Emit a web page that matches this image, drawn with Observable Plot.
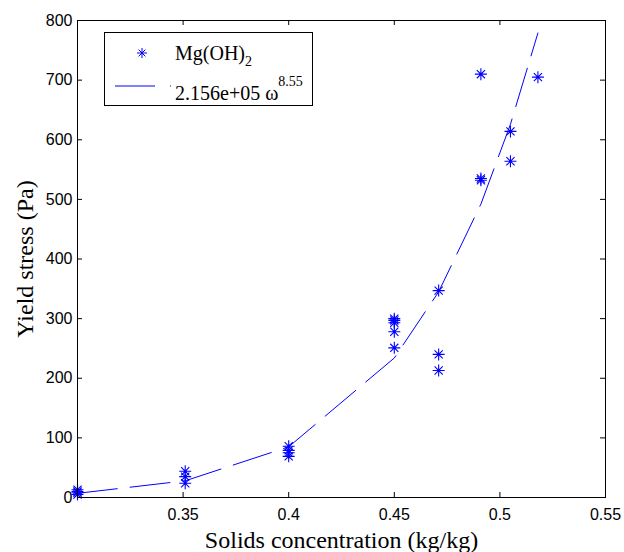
<!DOCTYPE html>
<html>
<head>
<meta charset="utf-8">
<script src="https://cdn.jsdelivr.net/npm/d3@7"></script>
<script src="https://cdn.jsdelivr.net/npm/@observablehq/plot@0.6"></script>
<style>
  html, body { margin: 0; padding: 0; background: #fff; }
  svg { display: block; }
</style>
</head>
<body>
<div id="chart"></div>
<script>
// Measured data (solids concentration kg/kg, yield stress Pa)
const conc = [0.3, 0.3, 0.3, 0.3,
              0.351, 0.351, 0.351,
              0.4, 0.4, 0.4, 0.4,
              0.45, 0.45, 0.45, 0.45, 0.45,
              0.471, 0.471, 0.471,
              0.491, 0.491, 0.491,
              0.505, 0.505,
              0.518];
const stress = [5, 8, 10, 13,
                24, 35, 44,
                69, 75, 79, 86,
                251, 278, 293, 297, 300,
                213, 240, 347,
                532, 535, 710,
                564, 614,
                705];

// Fitted curve values
const fitConc = [0.3, 0.351, 0.4, 0.45, 0.471, 0.491, 0.505, 0.518];
const fitStress = [7, 28, 85, 234, 345, 492, 626, 779];

// Tick values
const xTicks = [0.3, 0.35, 0.4, 0.45, 0.5, 0.55];
const xTickLabels = [0.35, 0.4, 0.45, 0.5, 0.55];
const yTicks = [0, 100, 200, 300, 400, 500, 600, 700, 800];

const legendLabels = ["Mg(OH)", "2", "2.156e+05 ω", "8.55"];
const xLabel = "Solids concentration (kg/kg)";
const yLabel = "Yield stress (Pa)";

const points = conc.map((c, i) => ({c, s: stress[i]}));
const fit = fitConc.map((c, i) => ({c, s: fitStress[i]}));

const W = 624, H = 552;
const mL = 77, mR = 19, mT = 20, mB = 55;
const pw = W - mL - mR, ph = H - mT - mB;

const BLUE = "#0000ff";
const serif = "'Liberation Serif', 'Times New Roman', serif";
const sans = "'Liberation Sans', Arial, Helvetica, sans-serif";

// MATLAB-style asterisk: plus + x
const star = {
  draw(context, size) {
    const r = Math.sqrt(size / Math.PI);
    const d = r * 0.68;
    context.moveTo(-r, 0); context.lineTo(r, 0);
    context.moveTo(0, -r); context.lineTo(0, r);
    context.moveTo(-d, -d); context.lineTo(d, d);
    context.moveTo(-d, d); context.lineTo(d, -d);
  }
};

const chart = Plot.plot({
  width: W,
  height: H,
  marginLeft: mL,
  marginRight: mR,
  marginTop: mT,
  marginBottom: mB,
  style: {background: "#fff", color: "#000"},
  x: {domain: [0.3, 0.55], label: null},
  y: {domain: [0, 800], label: null},
  marks: [
    Plot.axisX(xTickLabels, {tickSize: 0, tickPadding: 11, fontSize: 16, fontFamily: sans, fill: "#000", tickFormat: d => String(d), label: null}),
    Plot.axisY(yTicks, {tickSize: 0, tickPadding: 5, fontSize: 16, fontFamily: sans, fill: "#000", tickFormat: d => String(d), label: null}),
    // inward ticks on all four sides
    Plot.tickY(yTicks, {y: d => d, insetRight: pw - 5, stroke: "#000", strokeWidth: 1}),
    Plot.tickY(yTicks, {y: d => d, insetLeft: pw - 5, stroke: "#000", strokeWidth: 1}),
    Plot.tickX(xTicks, {x: d => d, insetTop: ph - 5, stroke: "#000", strokeWidth: 1}),
    Plot.tickX(xTicks, {x: d => d, insetBottom: ph - 5, stroke: "#000", strokeWidth: 1}),
    Plot.line(fit, {x: "c", y: "s", stroke: BLUE, strokeWidth: 1, strokeDasharray: "40,13"}),
    Plot.dot(points, {x: "c", y: "s", symbol: star, r: 6, stroke: BLUE, fill: "none", strokeWidth: 1.1}),
    Plot.frame({stroke: "#000", strokeWidth: 1}),
    Plot.text([xLabel], {frameAnchor: "bottom", lineAnchor: "bottom", textAnchor: "middle", dy: 50, fontSize: 24, fontFamily: serif, fill: "#000"}),
    Plot.text([yLabel], {frameAnchor: "left", lineAnchor: "bottom", textAnchor: "middle", rotate: -90, dx: -45, fontSize: 24, fontFamily: serif, fill: "#000"})
  ]
});

document.getElementById("chart").appendChild(chart);

// Legend box inside the plot area
const svg = d3.select(chart);
const lg = svg.append("g").attr("class", "legend").attr("text-anchor", "start");
lg.append("rect").attr("x", 104.5).attr("y", 32.5).attr("width", 208).attr("height", 73)
  .attr("fill", "#fff").attr("stroke", "#000").attr("stroke-width", 1);
lg.append("path")
  .attr("d", d3.symbol(star, Math.PI * 25)())
  .attr("transform", "translate(142,53)")
  .attr("fill", "none").attr("stroke", BLUE).attr("stroke-width", 1);
const t1 = lg.append("text").attr("x", 175).attr("y", 60)
  .attr("font-family", serif).attr("font-size", 20).attr("fill", "#000");
t1.append("tspan").text(legendLabels[0]);
t1.append("tspan").attr("font-size", 14).attr("dy", 6).text(legendLabels[1]);
lg.append("line").attr("x1", 115).attr("x2", 171).attr("y1", 86).attr("y2", 86)
  .attr("stroke", BLUE).attr("stroke-width", 1).attr("stroke-dasharray", "40,15");
const t2 = lg.append("text").attr("x", 175).attr("y", 100)
  .attr("font-family", serif).attr("font-size", 20).attr("fill", "#000");
t2.append("tspan").text(legendLabels[2]);
t2.append("tspan").attr("font-size", 14).attr("dy", -14).text(legendLabels[3]);
</script>
</body>
</html>
